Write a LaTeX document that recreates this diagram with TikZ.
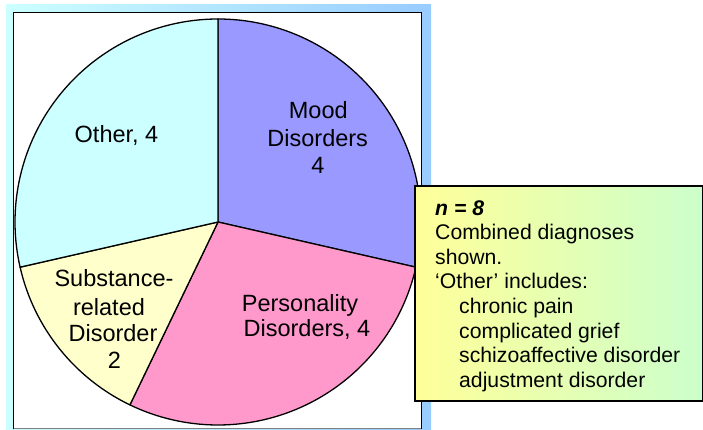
\documentclass[tikz,border=0pt]{standalone}
\usepackage{fontspec}
\setmainfont{Liberation Sans}
\definecolor{othc}{HTML}{CCFFFF}
\definecolor{moodc}{HTML}{9999FF}
\definecolor{persc}{HTML}{FF99CC}
\definecolor{subsc}{HTML}{FFFFCC}
\definecolor{bgl}{HTML}{CCFFFF}
\definecolor{bgr}{HTML}{99CCFF}
\definecolor{boxl}{HTML}{FFFF99}
\definecolor{boxr}{HTML}{CCFFCC}
\begin{document}
\begin{tikzpicture}[x=1pt,y=1pt,
  lbl/.style={font=\fontsize{23.5}{27.4}\selectfont, anchor=base, inner sep=0pt},
  boxtxt/.style={font=\fontsize{21.2}{24.6}\selectfont, anchor=base west, inner sep=0pt},
  slice/.style={draw=black, line width=1.3pt, line join=round}]
\useasboundingbox (0,0) rectangle (703,429);
% background gradient and panel
\shade[left color=bgl, right color=bgr] (6,0) rectangle (431,424);
\fill[white] (13.3,0.7) rectangle (421.7,416.3);
\draw[gray, line width=1pt] (13.3,0.7) -- (421.7,0.7);
\draw[line width=1.5pt] (13.3,0) -- (13.3,416.3) -- (421.7,416.3) -- (421.7,0);
% pie
\coordinate (c) at (218,207);
\def\R{203}
\draw[slice, fill=moodc] (c) -- ++(90:\R) arc[start angle=90, end angle=-12.857, radius=\R] -- cycle;
\draw[slice, fill=persc] (c) -- ++(-12.857:\R) arc[start angle=-12.857, end angle=-115.714, radius=\R] -- cycle;
\draw[slice, fill=subsc] (c) -- ++(-115.714:\R) arc[start angle=-115.714, end angle=-167.143, radius=\R] -- cycle;
\draw[slice, fill=othc] (c) -- ++(-167.143:\R) arc[start angle=-167.143, end angle=-270, radius=\R] -- cycle;
% slice labels
\node[lbl] (oth) at (116.5,286.3) {Other, 4};
\node[lbl] (mood1) at (318.3,310.5) {Mood};
\node[lbl] (mood2) at (317.7,283) {Disorders};
\node[lbl] (mood3) at (318,255.5) {4};
\node[lbl] (pers1) at (300,117.3) {Personality};
\node[lbl] (pers2) at (307,92.3) {Disorders, 4};
\node[lbl] (sub1) at (114,142.3) {Substance-};
\node[lbl] (sub2) at (109,114) {related};
\node[lbl] (sub3) at (113,87.3) {Disorder};
\node[lbl] (sub4) at (114.5,60.7) {2};
% note box
\node (box) [draw=black, line width=2pt, left color=boxl, right color=boxr,
  minimum width=287.4pt, minimum height=215pt, anchor=south west, inner sep=0pt]
  at (414.3,27.3) {};
\node[boxtxt] (t1) at (435,214) {\textbf{\textit{n = 8}}};
\node[boxtxt] (t2) at (435,189.4) {Combined diagnoses};
\node[boxtxt] (t3) at (435,164.8) {shown.};
\node[boxtxt] (t4) at (435,140.2) {‘Other’ includes:};
\node[boxtxt] (t5) at (459,115.6) {chronic pain};
\node[boxtxt] (t6) at (459,91) {complicated grief};
\node[boxtxt] (t7) at (459,66.4) {schizoaffective disorder};
\node[boxtxt] (t8) at (459,41.8) {adjustment disorder};
\end{tikzpicture}
\end{document}
